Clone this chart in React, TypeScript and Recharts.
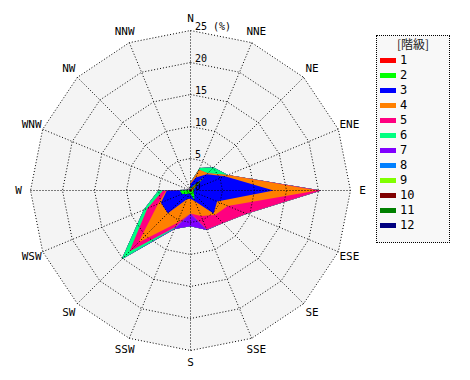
import { RadarChart, Radar, PolarGrid, PolarAngleAxis, PolarRadiusAxis } from 'recharts';

const DIRS = ['N', 'NNE', 'NE', 'ENE', 'E', 'ESE', 'SE', 'SSE', 'S', 'SSW', 'SW', 'WSW', 'W', 'WNW', 'NW', 'NNW'];

// frequency (%) by wind class, per direction (N clockwise)
const c1 = [0.2, 0.3, 3.0, 0.3, 0.3, 0.2, 0.2, 0.2, 0.1, 0.1, 0.1, 0.2, 0.2, 0.1, 0.1, 0.1];
const c2 = [0.2, 0.3, 0.0, 0.3, 0.3, 0.3, 0.6, 1.4, 0.5, 0.4, 0.7, 1.2, 1.5, 0.1, 0.0, 0.1];
const c3 = [0.6, 1.6, 0.6, 5.2, 12.4, 4.0, 4.3, 0.2, 0.7, 1.0, 4.2, 3.6, 2.0, 0.0, 0.1, 0.1];
const c4 = [0.2, 1.3, 0.2, 0.5, 6.8, 1.8, 0.3, 2.5, 2.3, 4.0, 6.5, 0.5, 0.1, 0.0, 0.0, 0.0];
const c5 = [0.0, 0.0, 0.0, 0.0, 0.6, 3.2, 1.8, 2.3, 0.0, 0.7, 2.0, 1.8, 0.5, 0.1, 0.0, 0.0];
const c6 = [0.1, 0.3, 1.3, 0.0, 0.0, 0.0, 0.0, 0.0, 0.0, 0.2, 1.7, 0.6, 0.7, 0.0, 0.0, 0.0];
const c7 = [0.0, 0.0, 0.0, 0.0, 0.0, 0.0, 0.0, 0.1, 2.0, 0.1, 0.0, 0.0, 0.0, 0.0, 0.0, 0.0];
const c8 = [0, 0, 0, 0, 0, 0, 0, 0, 0, 0, 0, 0, 0, 0, 0, 0];
const c9 = [0, 0, 0, 0, 0, 0, 0, 0, 0, 0, 0, 0, 0, 0, 0, 0];
const c10 = [0, 0, 0, 0, 0, 0, 0, 0, 0, 0, 0, 0, 0, 0, 0, 0];
const c11 = [0, 0, 0, 0, 0, 0, 0, 0, 0, 0, 0, 0, 0, 0, 0, 0];
const c12 = [0, 0, 0, 0, 0, 0, 0, 0, 0, 0, 0, 0, 0, 0, 0, 0];

const CLASS_FREQ = [c1, c2, c3, c4, c5, c6, c7, c8, c9, c10, c11, c12];
const CLASS_LABELS = ['1', '2', '3', '4', '5', '6', '7', '8', '9', '10', '11', '12'];
const CLASS_COLORS = [
  '#ff0000', '#00ff00', '#0000ff', '#ff8000', '#ff0080', '#00ff80',
  '#8000ff', '#0080ff', '#80ff00', '#800000', '#008000', '#000080',
];
const RADIUS_TICKS = [0, 5, 10, 15, 20, 25];
const MAX_PCT = 25;

const CX = 190.5;
const CY = 190.5;
const OUTER = 160;
const LABEL_R = 172;

// cumulative rows: class k polygon = sum of classes 1..k
const data = DIRS.map((dir, i) => {
  const row: Record<string, number | string> = { dir, bg: MAX_PCT };
  let sum = 0;
  CLASS_FREQ.forEach((arr, k) => {
    sum += arr[i];
    row['s' + (k + 1)] = Math.round(sum * 10) / 10;
  });
  return row;
});

const MONO = '"DejaVu Sans Mono", monospace';
const layer: React.CSSProperties = { position: 'absolute', left: 0, top: 0 };

function AngleTick(props: any) {
  const { payload } = props;
  const a = (-payload.coordinate * Math.PI) / 180;
  const x = CX + LABEL_R * Math.cos(a);
  const y = CY + LABEL_R * Math.sin(a);
  return (
    <text x={x} y={y} textAnchor="middle" dominantBaseline="central" fontSize={11} fontFamily={MONO} fill="#000">
      {payload.value}
    </text>
  );
}

function RadiusTick(props: any) {
  const { x, y, payload } = props;
  const label = payload.value === MAX_PCT ? '25 (%)' : String(payload.value);
  return (
    <text x={x + 4.5} y={y - 0.5} textAnchor="start" fontSize={10} fontFamily={MONO} fill="#000">
      {label}
    </text>
  );
}

export default function App() {
  const order = CLASS_LABELS.map((_, k) => k).reverse();
  const chartProps = {
    width: 470,
    height: 380,
    data,
    cx: CX,
    cy: CY,
    outerRadius: OUTER,
    margin: { top: 0, right: 0, bottom: 0, left: 0 },
  };
  return (
    <div style={{ position: 'absolute', left: 0, top: 0, width: 470, height: 380, background: '#fff' }}>
      {/* filled class polygons */}
      <div style={layer}>
        <RadarChart {...chartProps}>
          <PolarAngleAxis dataKey="dir" axisLine={false} tickLine={false} tick={false} />
          <PolarRadiusAxis angle={90} domain={[0, MAX_PCT]} ticks={RADIUS_TICKS} axisLine={false} tickLine={false} tick={false} />
          <Radar dataKey="bg" fill="#f4f4f4" fillOpacity={1} stroke="none" isAnimationActive={false} />
          {order.map((k) => (
            <Radar
              key={k}
              name={CLASS_LABELS[k]}
              dataKey={'s' + (k + 1)}
              fill={CLASS_COLORS[k]}
              fillOpacity={1}
              stroke="none"
              isAnimationActive={false}
            />
          ))}
        </RadarChart>
      </div>
      {/* dotted grid and labels on top */}
      <div style={{ ...layer, pointerEvents: 'none' }}>
        <RadarChart {...chartProps}>
          <PolarGrid gridType="polygon" stroke="#000" strokeDasharray="1 2" />
          <PolarAngleAxis dataKey="dir" axisLine={false} tickLine={false} tick={AngleTick} />
          <PolarRadiusAxis angle={90} domain={[0, MAX_PCT]} ticks={RADIUS_TICKS} axisLine={false} tickLine={false} tick={RadiusTick} />
          <Radar dataKey="bg" fill="none" stroke="none" isAnimationActive={false} />
        </RadarChart>
      </div>
      <div
        style={{
          position: 'absolute',
          left: 376,
          top: 35,
          width: 72,
          height: 206,
          border: '1px dotted #000',
          background: '#f8f8f8',
          fontFamily: MONO,
          fontSize: 12,
        }}
      >
        <div style={{ position: 'absolute', left: 0, width: 72, top: 1, textAlign: 'center', fontFamily: '"Noto Sans CJK JP", sans-serif', fontSize: 12, lineHeight: '14px', color: '#222' }}>
          [階級]
        </div>
        {CLASS_LABELS.map((lab, k) => (
          <div key={lab} style={{ position: 'absolute', left: 3, top: 17 + k * 15, height: 14, display: 'flex', alignItems: 'center' }}>
            <span style={{ display: 'inline-block', width: 16, height: 5, background: CLASS_COLORS[k] }} />
            <span style={{ marginLeft: 4, lineHeight: '14px', color: '#000' }}>{lab}</span>
          </div>
        ))}
      </div>
    </div>
  );
}
